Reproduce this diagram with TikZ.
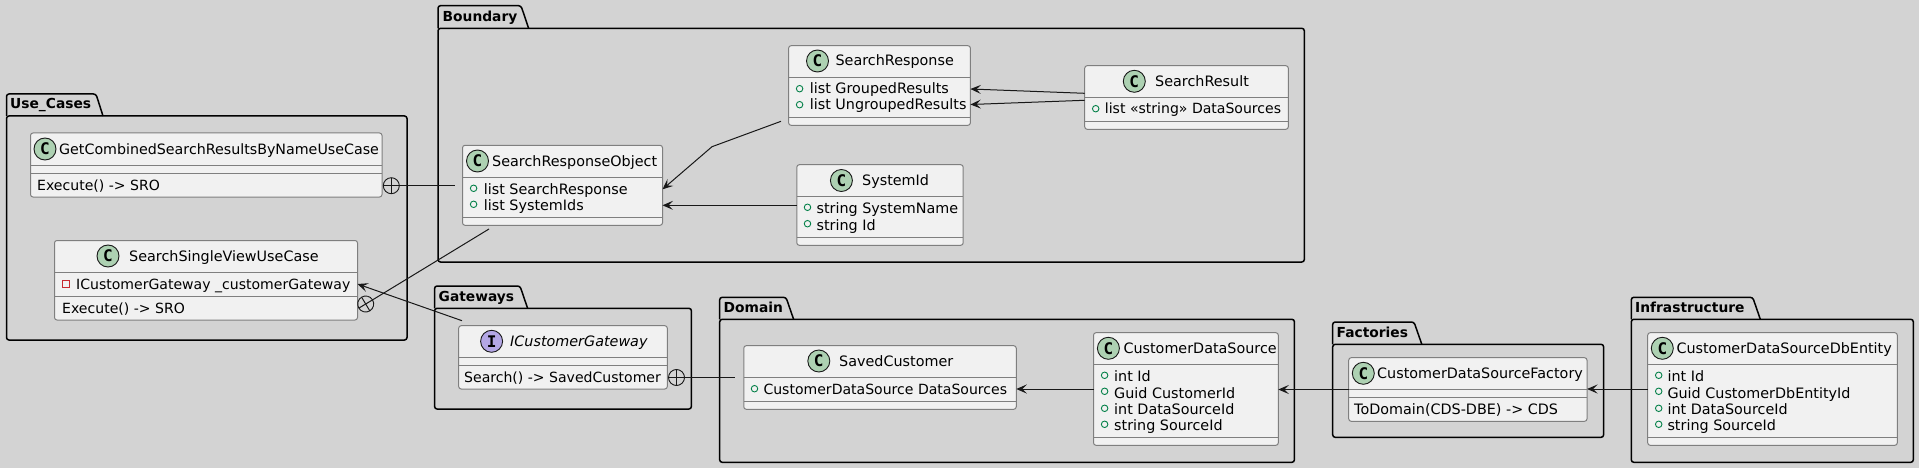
\documentclass[tikz,border=0pt]{standalone}
\usepackage{fontspec}
\setmainfont{DejaVu Sans}
\newfontfamily\spotfont{DejaVu Sans Mono}
\usetikzlibrary{arrows.meta}

\definecolor{sheetbg}{HTML}{D3D3D3}
\definecolor{classfill}{HTML}{F1F1F1}
\definecolor{classline}{HTML}{7F7F7F}
\definecolor{inkline}{HTML}{181818}
\definecolor{classspot}{HTML}{ADD1B2}
\definecolor{ifacespot}{HTML}{B4A7E5}
\definecolor{pubgreen}{HTML}{038048}
\definecolor{privred}{HTML}{C82930}

\tikzset{
    pkgline/.style={line width=1.5pt, black, rounded corners=2.5pt},
    pkgname/.style={anchor=west, inner sep=0pt, text height=12pt, text depth=2pt, font=\fontsize{13.8}{16}\selectfont\bfseries},
    classbox/.style={draw=classline, fill=classfill, line width=1pt, rounded corners=2.5pt, inner sep=0pt, outer sep=0pt},
    classsep/.style={draw=classline, line width=1pt},
    classname/.style={anchor=west, inner sep=0pt, text height=12pt, text depth=2pt, font=\fontsize{14.35}{16}\selectfont},
    member/.style={classname},
    snug/.style={classname, font=\fontsize{14.05}{16}\selectfont},
    spot/.style={circle, draw=inkline, line width=0.9pt, minimum size=22pt, inner sep=0pt, font=\spotfont\fontsize{16}{16}\selectfont\bfseries},
    pubmark/.style={circle, draw=pubgreen, line width=0.9pt, minimum size=6.5pt, inner sep=0pt},
    privmark/.style={rectangle, draw=privred, line width=0.9pt, minimum size=6.5pt, inner sep=0pt},
    nestmark/.style={circle, draw=inkline, line width=0.9pt, minimum size=16pt, inner sep=0pt, outer sep=0pt},
    link/.style={draw=inkline, line width=1pt},
    arrowlink/.style={link, -{Stealth[length=10.5pt, width=9pt, inset=4.5pt]}},
}

\begin{document}
\begin{tikzpicture}[x=1pt, y=-1pt]
    \fill[sheetbg] (0,0) rectangle (1919,468);
    \useasboundingbox (0,0) rectangle (1919,468);

    % Use_Cases
    \draw[pkgline] (6.5,116) -- (6.5,94) -- (96,94) -- (103,116);
    \draw[pkgline] (6.5,116) rectangle (407,340);
    \node[pkgname] (usecases) at (10,104) {Use\_Cases};

    % Boundary
    \draw[pkgline] (438,28.3) -- (438,5.7) -- (521,5.7) -- (528.6,28.3);
    \draw[pkgline] (438,28.3) rectangle (1304.3,262);
    \node[pkgname] (boundary) at (442.5,16.5) {Boundary};

    % Gateways
    \draw[pkgline] (434.6,308.3) -- (434.6,286) -- (520,286) -- (527.6,308.3);
    \draw[pkgline] (434.6,308.3) rectangle (691.4,409);
    \node[pkgname] (gateways) at (438.5,296.5) {Gateways};

    % Domain
    \draw[pkgline] (719.7,319.3) -- (719.7,297.3) -- (786,297.3) -- (793.6,319.3);
    \draw[pkgline] (719.7,319.3) rectangle (1294.4,462.3);
    \node[pkgname] (domain) at (723.5,307.5) {Domain};

    % Factories
    \draw[pkgline] (1332.7,344.3) -- (1332.7,322) -- (1414,322) -- (1421.8,344.3);
    \draw[pkgline] (1332.7,344.3) rectangle (1603.6,437.3);
    \node[pkgname] (factories) at (1336.5,332.5) {Factories};

    % Infrastructure
    \draw[pkgline] (1631.3,319.3) -- (1631.3,297.3) -- (1752.7,297.3) -- (1760.3,319.3);
    \draw[pkgline] (1631.3,319.3) rectangle (1913.3,462.3);
    \node[pkgname] (infrastructure) at (1635,307.5) {Infrastructure};

    % GetCombinedSearchResultsByNameUseCase
    \node[classbox, minimum width=351.5pt, minimum height=64pt] (combined) at (206.25,165) {};
    \draw[classsep] (combined.west |- 0,165) -- (combined.east |- 0,165);
    \draw[classsep] (combined.west |- 0,173) -- (combined.east |- 0,173);
    \node[spot, fill=classspot] (combinedc) at (45,149) {C};
    \node[classname, font=\fontsize{14.24}{16}\selectfont] (combinedt) at (59,149) {GetCombinedSearchResultsByNameUseCase};
    \node[snug] (combinedm) at (37,185) {Execute() -> SRO};

    % SearchSingleViewUseCase
    \node[classbox, minimum width=303pt, minimum height=79.5pt] (single) at (206,280.25) {};
    \draw[classsep] (single.west |- 0,272.3) -- (single.east |- 0,272.3);
    \draw[classsep] (single.west |- 0,296.3) -- (single.east |- 0,296.3);
    \node[spot, fill=classspot] (singlec) at (108,256) {C};
    \node[classname] (singlet) at (129,256) {SearchSingleViewUseCase};
    \node[privmark] (singlev) at (65.7,283.7) {};
    \node[snug] (singlea) at (76,284) {ICustomerGateway \_customerGateway};
    \node[snug] (singlem) at (62,308) {Execute() -> SRO};

    % SearchResponseObject
    \node[classbox, minimum width=200pt, minimum height=80pt] (sro) at (562.5,185.3) {};
    \draw[classsep] (sro.west |- 0,177.3) -- (sro.east |- 0,177.3);
    \draw[classsep] (sro.west |- 0,217.3) -- (sro.east |- 0,217.3);
    \node[spot, fill=classspot] (sroc) at (477.5,161) {C};
    \node[classname] (srot) at (492,161) {SearchResponseObject};
    \node[pubmark] (srov1) at (473.6,188.3) {};
    \node[member] (srom1) at (483.6,189) {list SearchResponse};
    \node[pubmark] (srov2) at (473.6,204.3) {};
    \node[member] (srom2) at (483.6,205) {list SystemIds};

    % SearchResponse
    \node[classbox, minimum width=181.8pt, minimum height=79.6pt] (response) at (879.5,85.5) {};
    \draw[classsep] (response.west |- 0,77.3) -- (response.east |- 0,77.3);
    \draw[classsep] (response.west |- 0,117.3) -- (response.east |- 0,117.3);
    \node[spot, fill=classspot] (responsec) at (817.5,61) {C};
    \node[classname] (responset) at (835.4,61) {SearchResponse};
    \node[pubmark] (responsev1) at (799.6,88.7) {};
    \node[member] (responsem1) at (809.6,89) {list GroupedResults};
    \node[pubmark] (responsev2) at (799.6,104.7) {};
    \node[member] (responsem2) at (809.6,105) {list UngroupedResults};

    % SystemId
    \node[classbox, minimum width=166.4pt, minimum height=80.6pt] (systemid) at (880,205) {};
    \draw[classsep] (systemid.west |- 0,196.3) -- (systemid.east |- 0,196.3);
    \draw[classsep] (systemid.west |- 0,237.3) -- (systemid.east |- 0,237.3);
    \node[spot, fill=classspot] (systemidc) at (841.4,180.5) {C};
    \node[classname] (systemidt) at (862,180.5) {SystemId};
    \node[pubmark] (systemidv1) at (807.5,207.3) {};
    \node[member] (systemidm1) at (816.4,208) {string SystemName};
    \node[pubmark] (systemidv2) at (807.5,223.7) {};
    \node[member] (systemidm2) at (816.4,225) {string Id};

    % SearchResult
    \node[classbox, minimum width=203.6pt, minimum height=63.6pt] (result) at (1186.5,97.5) {};
    \draw[classsep] (result.west |- 0,97.7) -- (result.east |- 0,97.7);
    \draw[classsep] (result.west |- 0,121.3) -- (result.east |- 0,121.3);
    \node[spot, fill=classspot] (resultc) at (1134.3,81.3) {C};
    \node[classname] (resultt) at (1155,81.3) {SearchResult};
    \node[pubmark] (resultv) at (1095.7,108.7) {};
    \node[snug] (resultm) at (1104.7,109) {list «string» DataSources};

    % ICustomerGateway
    \node[classbox, minimum width=208.6pt, minimum height=63.3pt] (gateway) at (563,357.35) {};
    \draw[classsep] (gateway.west |- 0,357.3) -- (gateway.east |- 0,357.3);
    \draw[classsep] (gateway.west |- 0,365.3) -- (gateway.east |- 0,365.3);
    \node[spot, fill=ifacespot] (gatewayc) at (491.6,341.3) {I};
    \node[classname] (gatewayt) at (510,341.3) {\itshape ICustomerGateway};
    \node[snug] (gatewaym) at (464,377.3) {Search() -> SavedCustomer};

    % SavedCustomer
    \node[classbox, minimum width=272.5pt, minimum height=63.6pt] (saved) at (880,377.5) {};
    \draw[classsep] (saved.west |- 0,377.3) -- (saved.east |- 0,377.3);
    \draw[classsep] (saved.west |- 0,401.3) -- (saved.east |- 0,401.3);
    \node[spot, fill=classspot] (savedc) at (818.8,361) {C};
    \node[classname] (savedt) at (839,361) {SavedCustomer};
    \node[pubmark] (savedv) at (754.5,388.7) {};
    \node[snug] (savedm) at (763.3,389) {CustomerDataSource DataSources};

    % CustomerDataSource
    \node[classbox, minimum width=184.8pt, minimum height=112.6pt] (source) at (1185.9,389) {};
    \draw[classsep] (source.west |- 0,364.3) -- (source.east |- 0,364.3);
    \draw[classsep] (source.west |- 0,437.3) -- (source.east |- 0,437.3);
    \node[spot, fill=classspot] (sourcec) at (1108.4,348.3) {C};
    \node[classname] (sourcet) at (1123.3,348.3) {CustomerDataSource};
    \node[pubmark] (sourcev1) at (1104.6,375.3) {};
    \node[member] (sourcem1) at (1114,376) {int Id};
    \node[pubmark] (sourcev2) at (1104.6,391.3) {};
    \node[member] (sourcem2) at (1114,393) {Guid CustomerId};
    \node[pubmark] (sourcev3) at (1104.6,408.3) {};
    \node[member] (sourcem3) at (1114,409) {int DataSourceId};
    \node[pubmark] (sourcev4) at (1104.6,424.3) {};
    \node[member] (sourcem4) at (1114,425) {string SourceId};

    % CustomerDataSourceFactory
    \node[classbox, minimum width=238.3pt, minimum height=63.6pt] (factory) at (1467.85,389.5) {};
    \draw[classsep] (factory.west |- 0,389.3) -- (factory.east |- 0,389.3);
    \draw[classsep] (factory.west |- 0,397.3) -- (factory.east |- 0,397.3);
    \node[spot, fill=classspot] (factoryc) at (1363.3,373.3) {C};
    \node[classname] (factoryt) at (1377,373.3) {CustomerDataSourceFactory};
    \node[member] (factorym) at (1354,409.3) {ToDomain(CDS-DBE) -> CDS};

    % CustomerDataSourceDbEntity
    \node[classbox, minimum width=249.6pt, minimum height=112.6pt] (entity) at (1772.5,389) {};
    \draw[classsep] (entity.west |- 0,364.3) -- (entity.east |- 0,364.3);
    \draw[classsep] (entity.west |- 0,437.3) -- (entity.east |- 0,437.3);
    \node[spot, fill=classspot] (entityc) at (1662.3,348.3) {C};
    \node[classname] (entityt) at (1676.3,348.3) {CustomerDataSourceDbEntity};
    \node[pubmark] (entityv1) at (1658.7,375.3) {};
    \node[member] (entitym1) at (1667.3,376) {int Id};
    \node[pubmark] (entityv2) at (1658.7,391.3) {};
    \node[member] (entitym2) at (1667.3,393) {Guid CustomerDbEntityId};
    \node[pubmark] (entityv3) at (1658.7,408.3) {};
    \node[member] (entitym3) at (1667.3,409) {int DataSourceId};
    \node[pubmark] (entityv4) at (1658.7,424.3) {};
    \node[member] (entitym4) at (1667.3,425) {string SourceId};

    % Nesting marks
    \node[nestmark] (combinedplus) at (391.3,185.7) {};
    \draw[link] (combinedplus.north) -- (combinedplus.south);
    \draw[link] (combinedplus.west) -- (combinedplus.east);
    \node[nestmark, rotate=31] (singleplus) at (365.7,304) {};
    \draw[link] (singleplus.north) -- (singleplus.south);
    \draw[link] (singleplus.west) -- (singleplus.east);
    \node[nestmark] (gatewayplus) at (676.5,377.5) {};
    \draw[link] (gatewayplus.north) -- (gatewayplus.south);
    \draw[link] (gatewayplus.west) -- (gatewayplus.east);

    % Links
    \coordinate (sroleft) at (455,185.7);
    \coordinate (srofoot) at (489,229);
    \coordinate (savedleft) at (735,377.5);
    \coordinate (gatewaytop) at (462,320.7);
    \coordinate (responsefoot) at (781,121.3);
    \coordinate (responsebend) at (712,146.7);
    \draw[link] (combinedplus.east) -- (sroleft);
    \draw[link] (srofoot) -- (singleplus.east);
    \draw[link] (gatewayplus.east) -- (savedleft);
    \draw[arrowlink] (gatewaytop) -- (single.east |- 0,284);
    \draw[arrowlink] (responsefoot) -- (responsebend) -- (sro.east |- 0,189.3);
    \draw[arrowlink] (systemid.west |- 0,205.3) -- (sro.east |- 0,205.3);
    \draw[arrowlink] (result.west |- 0,93.3) -- (response.east |- 0,89);
    \draw[arrowlink] (result.west |- 0,100.3) -- (response.east |- 0,104.5);
    \draw[arrowlink] (source.west) -- (saved.east |- source.west);
    \draw[arrowlink] (factory.west) -- (source.east |- factory.west);
    \draw[arrowlink] (entity.west) -- (factory.east |- entity.west);
\end{tikzpicture}
\end{document}
